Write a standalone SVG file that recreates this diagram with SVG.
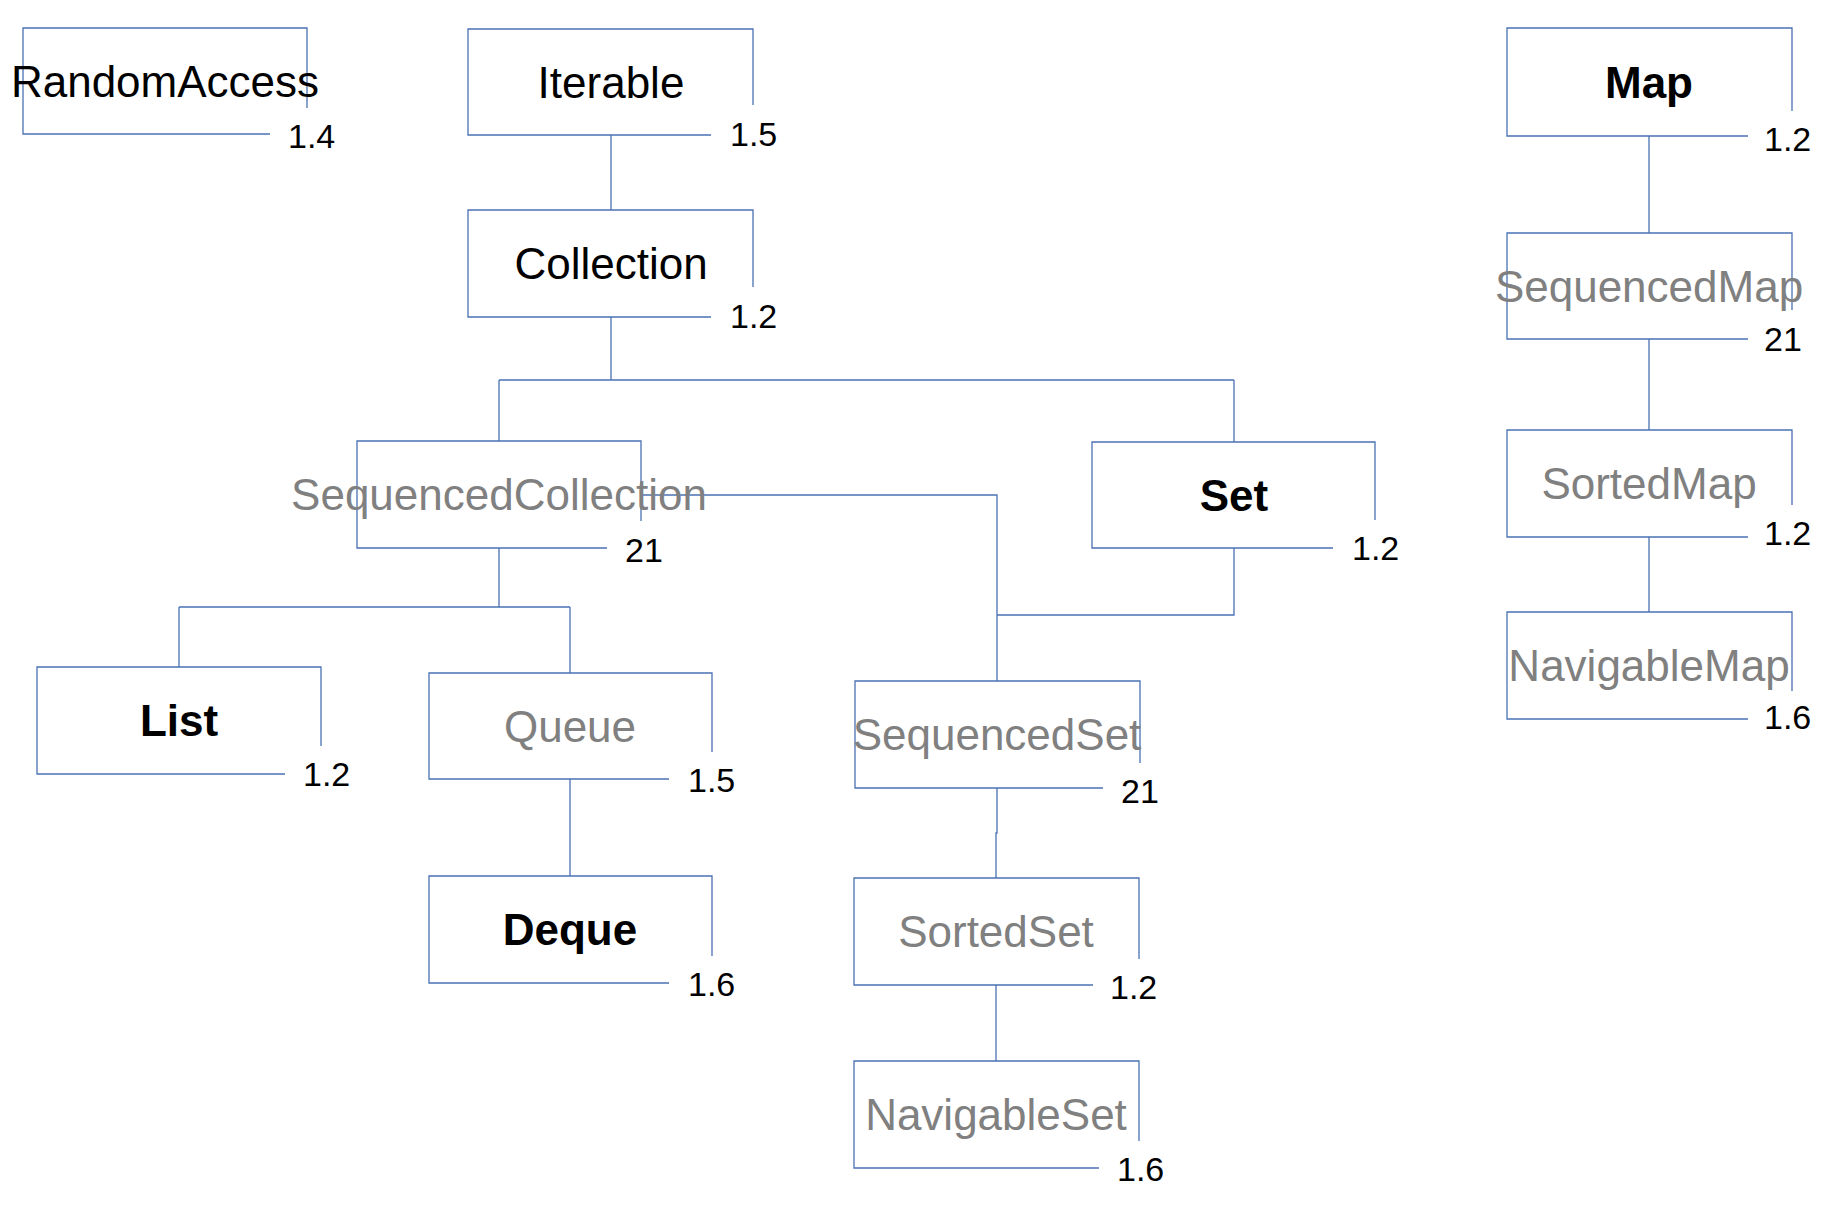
<svg xmlns="http://www.w3.org/2000/svg" width="1832" height="1210" viewBox="0 0 1832 1210">
<style>
.ln{fill:none;stroke:#4a72b4;stroke-width:1.3}
.nm{font-family:"Liberation Sans",Arial,sans-serif;font-size:44px;text-anchor:middle;fill:#000}
.b{font-weight:bold}
.g{fill:#808080}
.v{font-family:"Liberation Sans",Arial,sans-serif;font-size:34px;fill:#000}
</style>
<rect width="1832" height="1210" fill="#fff"/>
<g id="connectors" class="ln">
<path d="M611 135V210"/>
<path d="M611 317V380M499 380H1234M499 380V441M1234 380V442"/>
<path d="M499 548V607M179 607H570M179 607V667M570 607V673"/>
<path d="M570 779V876"/>
<path d="M641 495H997V681"/>
<path d="M1234 548V615H997"/>
<path d="M997 788V833H996V878"/>
<path d="M996 985V1061"/>
<path d="M1649 136V233M1649 339V430M1649 537V612"/>
</g>
<g id="RandomAccess"><path class="ln" d="M270 134H23V28H307V108"/><text class="nm" x="165" y="97">RandomAccess</text><text class="v" x="288" y="148">1.4</text></g>
<g id="Iterable"><path class="ln" d="M711 135H468V29H753V105"/><text class="nm" x="611" y="98">Iterable</text><text class="v" x="730" y="146">1.5</text></g>
<g id="Collection"><path class="ln" d="M711 317H468V210H753V287"/><text class="nm" x="611" y="279">Collection</text><text class="v" x="730" y="328">1.2</text></g>
<g id="SequencedCollection"><path class="ln" d="M607 548H357V441H641V521"/><text class="nm g" x="499" y="510">SequencedCollection</text><text class="v" x="625" y="562">21</text></g>
<g id="Set"><path class="ln" d="M1333 548H1092V442H1375V520"/><text class="nm b" x="1234" y="511">Set</text><text class="v" x="1352" y="560">1.2</text></g>
<g id="List"><path class="ln" d="M285 774H37V667H321V746"/><text class="nm b" x="179" y="736">List</text><text class="v" x="303" y="786">1.2</text></g>
<g id="Queue"><path class="ln" d="M669 779H429V673H712V752"/><text class="nm g" x="570" y="742">Queue</text><text class="v" x="688" y="792">1.5</text></g>
<g id="Deque"><path class="ln" d="M669 983H429V876H712V956"/><text class="nm b" x="570" y="945">Deque</text><text class="v" x="688" y="996">1.6</text></g>
<g id="SequencedSet"><path class="ln" d="M1103 788H855V681H1140V763"/><text class="nm g" x="997" y="750">SequencedSet</text><text class="v" x="1121" y="803">21</text></g>
<g id="SortedSet"><path class="ln" d="M1093 985H854V878H1139V959"/><text class="nm g" x="996" y="947">SortedSet</text><text class="v" x="1110" y="999">1.2</text></g>
<g id="NavigableSet"><path class="ln" d="M1099 1168H854V1061H1139V1141"/><text class="nm g" x="996" y="1130">NavigableSet</text><text class="v" x="1117" y="1181">1.6</text></g>
<g id="Map"><path class="ln" d="M1748 136H1507V28H1792V111"/><text class="nm b" x="1649" y="98">Map</text><text class="v" x="1764" y="151">1.2</text></g>
<g id="SequencedMap"><path class="ln" d="M1748 339H1507V233H1792V310"/><text class="nm g" x="1649" y="302">SequencedMap</text><text class="v" x="1764" y="351">21</text></g>
<g id="SortedMap"><path class="ln" d="M1748 537H1507V430H1792V505"/><text class="nm g" x="1649" y="499">SortedMap</text><text class="v" x="1764" y="545">1.2</text></g>
<g id="NavigableMap"><path class="ln" d="M1748 719H1507V612H1792V691"/><text class="nm g" x="1649" y="681">NavigableMap</text><text class="v" x="1764" y="729">1.6</text></g>
</svg>
